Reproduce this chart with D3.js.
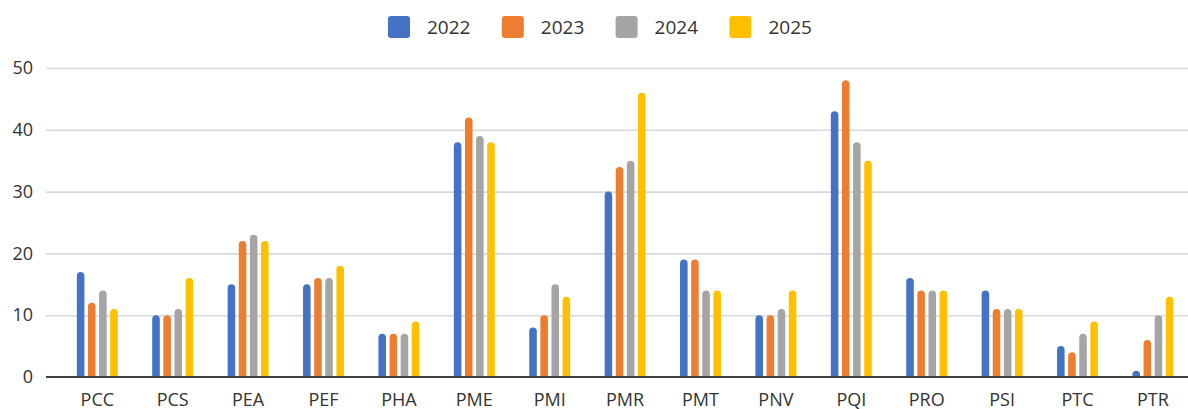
<!DOCTYPE html>
<html lang="en">
<head>
<meta charset="UTF-8" />
<title>Grouped bars 2022-2025</title>
<script src="https://d3js.org/d3.v7.min.js"></script>
<style>
  html, body { margin: 0; padding: 0; background: #fff; }
  body { font-family: "Open Sans", "Noto Sans", sans-serif; }
  svg text { fill: #333; }
</style>
</head>
<body>
<div id="chart"></div>
<script>
// data
const categories = ["PCC", "PCS", "PEA", "PEF", "PHA", "PME", "PMI", "PMR", "PMT", "PNV", "PQI", "PRO", "PSI", "PTC", "PTR"];
const years = ["2022", "2023", "2024", "2025"];
const v2022 = [17, 10, 15, 15, 7, 38, 8, 30, 19, 10, 43, 16, 14, 5, 1];
const v2023 = [12, 10, 22, 16, 7, 42, 10, 34, 19, 10, 48, 14, 11, 4, 6];
const v2024 = [14, 11, 23, 16, 7, 39, 15, 35, 14, 11, 38, 14, 11, 7, 10];
const v2025 = [11, 16, 22, 18, 9, 38, 13, 46, 14, 14, 35, 14, 11, 9, 13];
const yTicks = [0, 10, 20, 30, 40, 50];
const colors = ["#4472C4", "#ED7D31", "#A5A5A5", "#FFC000"];

const width = 1188, height = 409;
const seriesValues = [v2022, v2023, v2024, v2025];

const svg = d3.select("#chart").append("svg")
  .attr("width", width)
  .attr("height", height);

const y = d3.scaleLinear().domain([0, 50]).range([377, 68]);

const x0 = d3.scaleBand()
  .domain(categories)
  .range([59.6, 1190.6])
  .paddingInner(0.41)
  .paddingOuter(0.205);

const x1 = d3.scaleBand()
  .domain(years)
  .range([0, x0.bandwidth()])
  .paddingInner(0.32)
  .paddingOuter(0.16);

const color = d3.scaleOrdinal().domain(years).range(colors);

// gridlines + y labels
const yAxis = d3.axisLeft(y)
  .tickValues(yTicks)
  .tickSize(-(width - 46))
  .tickPadding(13)
  .tickFormat(d3.format("d"));

const gy = svg.append("g")
  .attr("transform", "translate(46,0)")
  .call(yAxis);
gy.select(".domain").remove();
gy.selectAll(".tick line")
  .attr("stroke", "#d9d9d9")
  .attr("stroke-width", 1.6);
gy.selectAll(".tick text")
  .attr("font-size", 18)
  .attr("font-family", "'Open Sans', 'Noto Sans', sans-serif")
  .attr("fill", "#333");

// bars with rounded tops
function barPath(xl, w, yt, yb) {
  const r = Math.min(w / 2, yb - yt);
  return `M${xl},${yb}L${xl},${yt + r}A${w / 2},${r} 0 0 1 ${xl + w},${yt + r}L${xl + w},${yb}Z`;
}

const rows = categories.map((c, i) => ({
  cat: c,
  vals: years.map((yr, k) => ({ year: yr, value: seriesValues[k][i] }))
}));

const groups = svg.append("g").selectAll("g")
  .data(rows)
  .join("g")
  .attr("transform", d => `translate(${x0(d.cat)},0)`);

groups.selectAll("path")
  .data(d => d.vals)
  .join("path")
  .attr("fill", d => color(d.year))
  .attr("d", d => barPath(x1(d.year), x1.bandwidth(), y(d.value), y(0)));

// x axis baseline + category labels
const xAxis = d3.axisBottom(x0).tickSize(0).tickPadding(16);
const gx = svg.append("g")
  .attr("transform", `translate(0,${y(0)})`)
  .call(xAxis);
gx.select(".domain").remove();
gx.selectAll(".tick text")
  .attr("font-size", 18)
  .attr("font-family", "'Open Sans', 'Noto Sans', sans-serif")
  .attr("fill", "#333");

svg.append("line")
  .attr("x1", 46).attr("x2", width)
  .attr("y1", y(0)).attr("y2", y(0))
  .attr("stroke", "#404040")
  .attr("stroke-width", 2);

// legend
const legend = svg.append("g").selectAll("g")
  .data(years)
  .join("g")
  .attr("transform", (d, i) => `translate(${388 + i * 113.8},16)`);

legend.append("rect")
  .attr("width", 22).attr("height", 22)
  .attr("rx", 3)
  .attr("fill", d => color(d));

legend.append("text")
  .attr("x", 39).attr("y", 11)
  .attr("dy", "0.36em")
  .attr("font-size", 19)
  .text(d => d);
</script>
</body>
</html>
